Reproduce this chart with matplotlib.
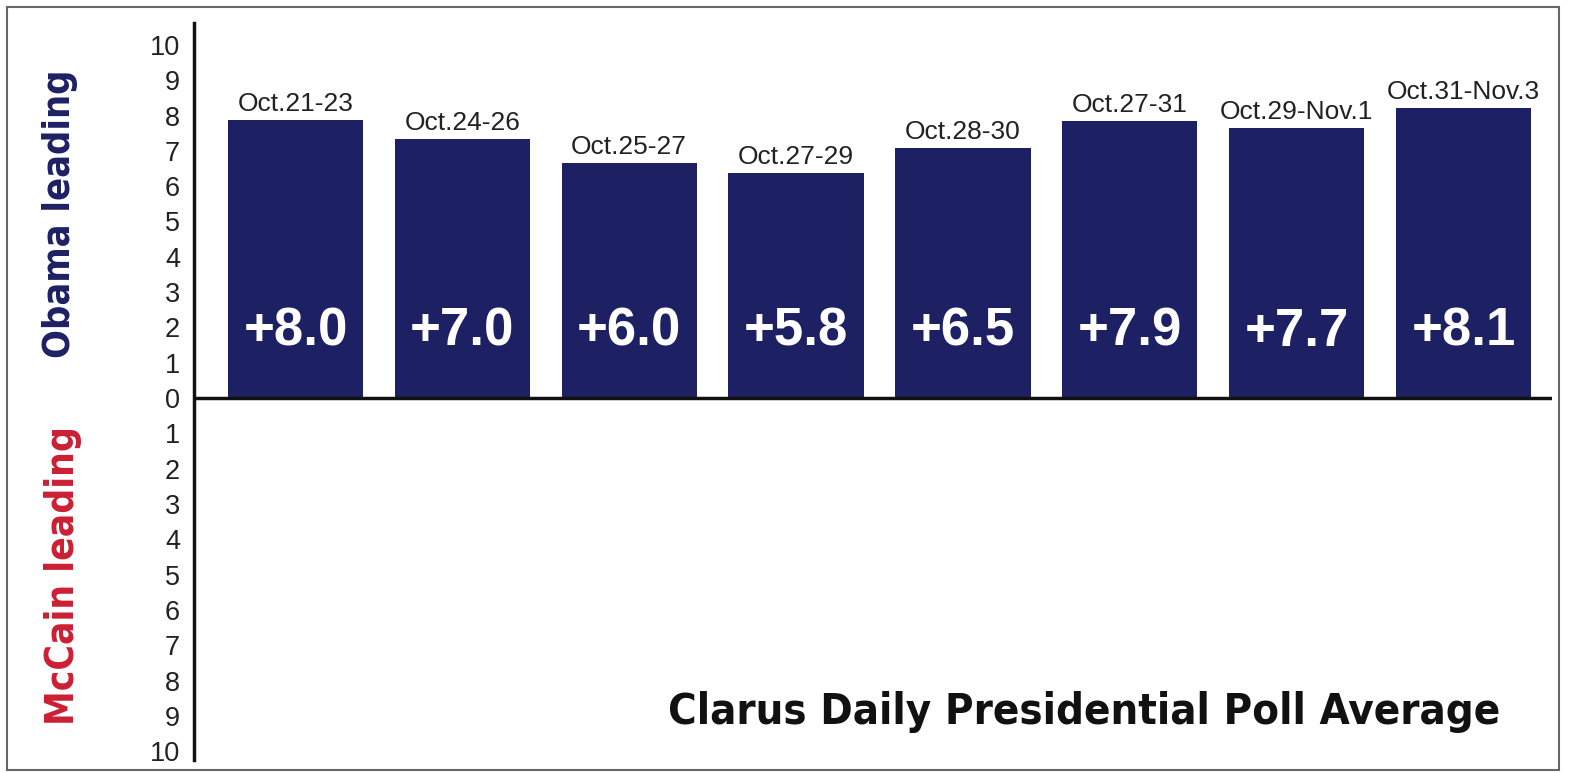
import matplotlib
matplotlib.use("Agg")
import matplotlib.pyplot as plt
from matplotlib.patches import Rectangle

# dados
periodos = ["Oct.21-23", "Oct.24-26", "Oct.25-27", "Oct.27-29",
            "Oct.28-30", "Oct.27-31", "Oct.29-Nov.1", "Oct.31-Nov.3"]
altura_barras = [7.87, 7.33, 6.65, 6.38, 7.07, 7.84, 7.65, 8.22]
rotulos = ["+8.0", "+7.0", "+6.0", "+5.8", "+6.5", "+7.9", "+7.7", "+8.1"]
ticks = list(range(-10, 11))

azul = "#1d2063"
vermelho = "#cc1f33"
fonte = ["Liberation Sans", "DejaVu Sans"]

W, H = 1569, 773
fig = plt.figure(figsize=(W / 100, H / 100), dpi=100)
ax = fig.add_axes([194 / W, 1 - 760 / H, (1552 - 194) / W, (760 - 23) / H])

x = list(range(len(periodos)))
ax.bar(x, altura_barras, width=0.81, color=azul, zorder=2)

for i, (h, per, rot) in enumerate(zip(altura_barras, periodos, rotulos)):
    ax.annotate(per, (i, h), xytext=(0, 3), textcoords="offset points",
                ha="center", va="bottom", fontsize=19, family=fonte, color="#222222")
    ax.text(i, 1.87, rot, ha="center", va="center", fontsize=38,
            fontweight="bold", family=fonte, color="white", zorder=3)

ax.axhline(0, color="#111111", lw=2.5, zorder=4)
ax.set_xlim(-0.608, 7.53)
ax.set_ylim(-10.25, 10.62)
ax.set_xticks([])
ax.set_yticks(ticks)
ax.set_yticklabels([str(abs(t)) for t in ticks], family=fonte, fontsize=19.5, color="#222222")
ax.tick_params(axis="y", length=0, pad=10)
for s in ["top", "right", "bottom"]:
    ax.spines[s].set_visible(False)
ax.spines["left"].set_linewidth(2.5)
ax.spines["left"].set_color("#111111")

cond = dict(fontweight="bold", family="DejaVu Sans", fontstretch="condensed")
t_obama = fig.text(60 / W, 1 - 214 / H, "Obama leading", rotation=90, ha="center", va="center",
                   fontsize=30, color=azul, **cond)
t_mccain = fig.text(63 / W, 1 - 576 / H, "McCain leading", rotation=90, ha="center", va="center",
                    fontsize=30, color=vermelho, **cond)
t_titulo = fig.text(668 / W, 1 - 712 / H, "Clarus Daily Presidential Poll Average",
                    ha="left", va="center", fontsize=34, color="#111111", **cond)

# ajustar tamanho das fontes ao comprimento medido na referência
fig.canvas.draw()
r = fig.canvas.get_renderer()
for t, comp, vertical in [(t_obama, 288, True), (t_mccain, 298, True), (t_titulo, 834, False)]:
    bb = t.get_window_extent(r)
    atual = bb.height if vertical else bb.width
    t.set_fontsize(t.get_fontsize() * comp / atual)

# moldura externa
fig.patches.append(Rectangle((7 / W, 1 - 770 / H), (1559 - 7) / W, (770 - 7) / H,
                             transform=fig.transFigure, fill=False, edgecolor="#666666", lw=1.5))

fig.savefig("out.png", dpi=100)
